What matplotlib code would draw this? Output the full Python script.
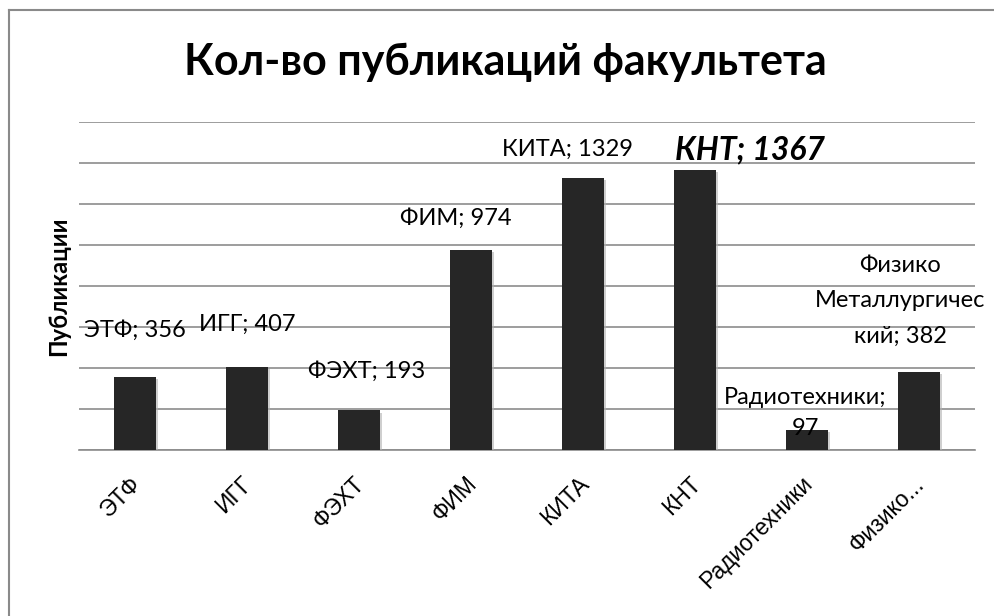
import matplotlib
matplotlib.use("Agg")
import matplotlib.pyplot as plt
import matplotlib.patheffects as pe
import matplotlib.transforms as mtransforms
from matplotlib.lines import Line2D

# faculties and their publication counts
faculties = ["ЭТФ", "ИГГ", "ФЭХТ", "ФИМ", "КИТА", "КНТ", "Радиотехники", "Физико..."]
counts = [356, 407, 193, 974, 1329, 1367, 97, 382]
label_texts = ["ЭТФ; 356", "ИГГ; 407", "ФЭХТ; 193", "ФИМ; 974", "КИТА; 1329",
               "КНТ; 1367", "Радиотехники;\n97", "Физико\nМеталлургичес\nкий; 382"]

# label offsets from the bar top, in pixels (labels were dragged by hand in the original)
label_dx = [0, 0, 8, -15, -16, 55, -2, -19]
label_dy = [47, 42, 39, 32, 28, 20, 17, 71]
label_ls = [1.2, 1.2, 1.2, 1.2, 1.2, 1.2, 1.55, 1.85]

plt.rcParams['font.family'] = ['Lato', 'DejaVu Sans']

fig = plt.figure(figsize=(9.94, 6.16), dpi=100)
ax = fig.add_axes([79 / 994, 1 - 450 / 616, 896 / 994, 328 / 616])

bars = ax.bar(range(len(counts)), counts, width=0.38, color="#262626", zorder=3)
for b in bars:
    b.set_path_effects([pe.SimplePatchShadow(offset=(1.5, -1.5), shadow_rgbFace="#b0b0b0", alpha=0.6),
                        pe.Normal()])

ax.set_xlim(-0.5, len(counts) - 0.5)
ax.set_ylim(0, 1600)
ax.set_yticks(range(0, 1601, 200))
ax.yaxis.grid(True, color="#8c8c8c", linewidth=1.2, zorder=0)
ax.tick_params(axis="y", length=0, labelleft=False)
ax.tick_params(axis="x", length=0, pad=16)
for side in ["top", "right", "left"]:
    ax.spines[side].set_visible(False)
ax.spines["bottom"].set_color("#8c8c8c")
ax.spines["bottom"].set_linewidth(1.2)

ax.set_xticks(range(len(faculties)))
ax.set_xticklabels(faculties, rotation=45, ha="right", rotation_mode="anchor",
                   fontsize=16.5, family="Liberation Sans")
shift = mtransforms.ScaledTranslation(-6 / 100, 0, fig.dpi_scale_trans)
for lbl in ax.get_xticklabels():
    lbl.set_transform(lbl.get_transform() + shift)

for i, (v, t) in enumerate(zip(counts, label_texts)):
    kw = dict(fontsize=17, color="black")
    if faculties[i] == "КНТ":
        kw = dict(fontsize=23, fontweight="bold", fontstyle="italic", color="black")
    ax.annotate(t, xy=(i, v), xytext=(label_dx[i], label_dy[i]), textcoords="offset pixels",
                ha="center", va="center", linespacing=label_ls[i], zorder=4, **kw)

ax.set_ylabel("Публикации", fontsize=17, fontweight="bold")
ax.yaxis.set_label_coords(-0.01, 0.5)

fig.suptitle("Кол-во публикаций факультета", x=0.508, y=1 - 62 / 616, va="center",
             fontsize=31, fontweight="bold")

# chart frame (only left and top edges visible in the screenshot)
fig.add_artist(Line2D([9 / 994, 9 / 994], [0, 1 - 10 / 616], transform=fig.transFigure,
                      color="#8a8a8a", linewidth=1.5))
fig.add_artist(Line2D([9 / 994, 1], [1 - 10 / 616, 1 - 10 / 616], transform=fig.transFigure,
                      color="#8a8a8a", linewidth=1.5))

fig.savefig("out.png", dpi=100, facecolor="white")
